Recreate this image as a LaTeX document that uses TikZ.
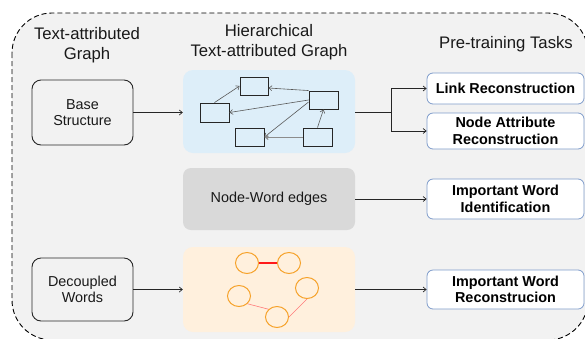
\documentclass[tikz,border=0pt]{standalone}
\usepackage{fontspec}
\setmainfont{Liberation Sans}
\usetikzlibrary{arrows.meta,shapes.geometric}
\definecolor{bgray}{HTML}{F2F2F2}
\definecolor{lblue}{HTML}{DDEEF9}
\definecolor{lorange}{HTML}{FFF0DD}
\definecolor{mgray}{HTML}{D9D9D9}
\definecolor{taskborder}{HTML}{7F9CCB}
\definecolor{corange}{HTML}{F6A22A}
\definecolor{salmon}{HTML}{FF7A7A}
\definecolor{wred}{HTML}{FF1A1A}
\begin{document}
\begin{tikzpicture}[x=1pt,y=-1pt,
  body/.style={font=\fontsize{14.4}{16.5}\selectfont, align=center, text=black!90},
  ttl/.style={font=\fontsize{16.7}{20}\selectfont, align=center, text=black!90, inner sep=0pt},
  inbox/.style={draw=black!85, line width=0.9pt, rounded corners=9pt, minimum width=101pt, body},
  panel/.style={rounded corners=10pt, minimum width=172pt, body},
  task/.style={draw=taskborder, fill=white, rounded corners=6pt, line width=0.8pt, minimum width=157pt, align=center, text=black, font=\bfseries\fontsize{14.4}{16.5}\selectfont},
  arr/.style={-{Straight Barb[length=3pt,width=5pt]}, line width=0.7pt, draw=black!85},
  gnode/.style={draw=black!85, fill=lblue, line width=0.9pt, minimum width=29pt, minimum height=18pt, inner sep=0pt},
  garr/.style={draw=black!65, line width=0.6pt, -{Straight Barb[length=3pt,width=5pt]}},
  wnode/.style={ellipse, draw=corange, fill=lorange, line width=1pt, minimum width=23pt, minimum height=21pt, inner sep=0pt}
]
\useasboundingbox (0,0) rectangle (585,338);
\clip (0,0) rectangle (585,338);
% outer dashed frame
\draw[fill=bgray, dash pattern=on 5pt off 3pt, line width=0.9pt, rounded corners=40pt] (12,13) rectangle (588,340);

% titles
\node[ttl] (t1) at (87,45) {Text-attributed\\Graph};
\node[ttl] (t2) at (269,42) {Hierarchical\\Text-attributed Graph};
\node[ttl, anchor=base] (t3) at (506,48) {Pre-training Tasks};

% left boxes
\node[inbox, minimum height=65pt] (base) at (82.5,112.5) {Base\\Structure};
\node[inbox, minimum height=63pt] (dec) at (82.5,289.5) {Decoupled\\Words};

% middle panels
\node[panel, fill=lblue, minimum height=83pt] (blue) at (269,111.5) {};
\node[panel, fill=mgray, minimum height=62pt, rounded corners=8pt] (gray) at (269,199) {Node-Word edges};
\node[panel, fill=lorange, minimum height=85pt] (orng) at (269,289.5) {};

% task boxes
\node[task, minimum height=31pt] (link) at (505.5,88.5) {Link Reconstruction};
\node[task, minimum height=36pt] (nattr) at (505.5,131) {Node Attribute\\Reconstruction};
\node[task, minimum height=40pt] (iwi) at (505.5,199) {Important Word\\Identification};
\node[task, minimum height=39pt] (iwr) at (505.5,289.5) {Important Word\\Reconstrucion};

% inner graph (blue panel)
\node[gnode, minimum width=28pt] (r1) at (254,86) {};
\node[gnode, minimum height=19pt] (r2) at (214.5,112.5) {};
\node[gnode] (r3) at (323.5,100) {};
\node[gnode] (r4) at (249.5,137) {};
\node[gnode] (r5) at (317.5,137) {};
\draw[garr] (r2.north) -- (r1.west);
\draw[garr] (r3.north west) -- ([yshift=-2pt]r1.east);
\draw[garr] (r3.west) -- (r2.east);
\draw[garr] ([yshift=-2pt]r3.west) -- (r4.east);
\draw[garr, draw=black!45, line width=1pt] (r5.west) -- (r4.east);
\draw[garr] (r5.north) -- (r3.south);

% word graph (orange panel)
\node[wnode] (c1) at (247,263) {};
\node[wnode] (c2) at (289,263) {};
\node[wnode] (c3) at (239,296) {};
\node[wnode] (c4) at (307,288) {};
\node[wnode] (c5) at (277,317) {};
\draw[wred, line width=1.1pt] (c1.east) -- (c2.west);
\draw[salmon, line width=0.6pt] (c3.south east) -- (c5.north west);
\draw[salmon, line width=0.6pt] (c5.east) -- (c4.south);

% connectors
\draw[arr] (base.east) -- (base.east -| blue.west);
\draw[arr] (dec.east) -- (dec.east -| orng.west);
\coordinate (j) at (391,112);
\draw[line width=0.7pt, draw=black!85] (blue.east |- j) -- (j);
\draw[arr] (j) |- (link.west);
\draw[arr] (j) |- (nattr.west);
\draw[arr] (gray.east) -- (iwi.west);
\draw[arr] (orng.east) -- (orng.east -| iwr.west);
\end{tikzpicture}
\end{document}
